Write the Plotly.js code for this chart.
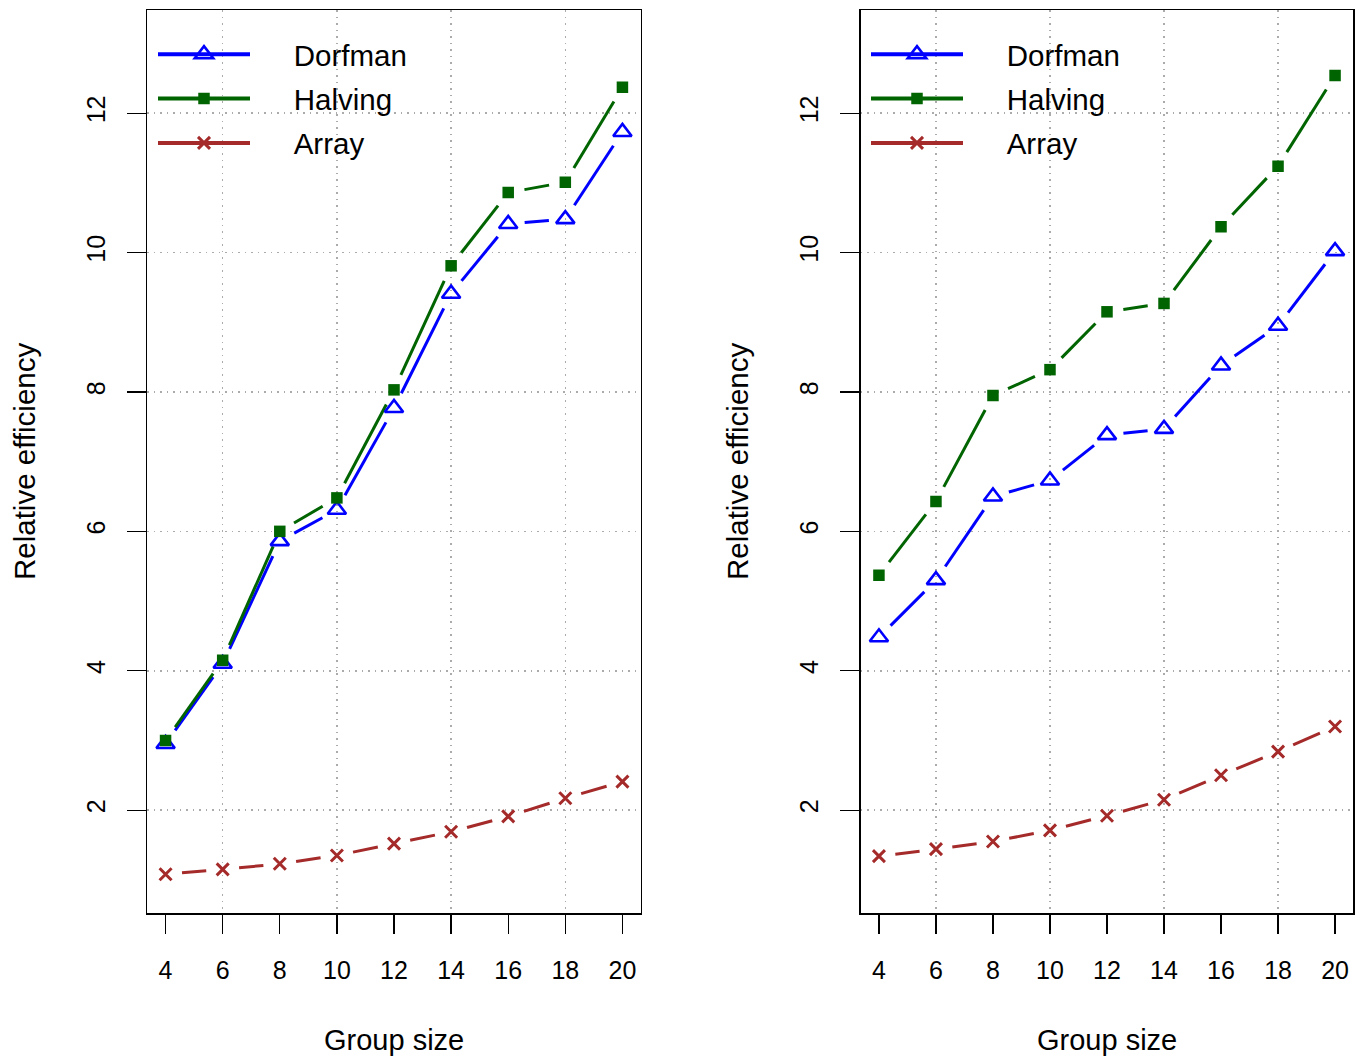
<!DOCTYPE html>
<html><head><meta charset="utf-8">
<script src="https://cdn.plot.ly/plotly-3.0.1.min.js"></script>
<style>html,body{margin:0;padding:0;background:#fff}</style>
</head><body><div id="chart" style="width:1365px;height:1059px"></div>
<script>
// ---- data ----
const groupSize = [4, 6, 8, 10, 12, 14, 16, 18, 20];
const leftDorfman  = [2.95, 4.10, 5.86, 6.31, 7.77, 9.41, 10.41, 10.48, 11.73];
const leftHalving  = [3.00, 4.15, 6.00, 6.48, 8.03, 9.81, 10.86, 11.01, 12.37];
const leftArray    = [1.08, 1.15, 1.23, 1.35, 1.52, 1.69, 1.91, 2.17, 2.41];
const rightDorfman = [4.48, 5.30, 6.50, 6.73, 7.38, 7.47, 8.38, 8.95, 10.02];
const rightHalving = [5.37, 6.43, 7.95, 8.32, 9.15, 9.27, 10.37, 11.24, 12.54];
const rightArray   = [1.34, 1.44, 1.55, 1.71, 1.92, 2.15, 2.50, 2.84, 3.20];
const seriesNames = ['Dorfman', 'Halving', 'Array'];
const xTickVals = [4, 6, 8, 10, 12, 14, 16, 18, 20];
const xGridVals = [6, 10, 14, 18];
const yTickVals = [2, 4, 6, 8, 10, 12];
const xAxisTitle = 'Group size';
const yAxisTitle = 'Relative efficiency';

// ---- style ----
const W = 1365, H = 1059;
const FONT = '"Liberation Sans", Arial, Helvetica, sans-serif';
const colors = {Dorfman: '#0000FF', Halving: '#006400', Array: '#A52A2A'};
const markers = {
  Dorfman: {symbol: 'triangle-up-open', size: 16, color: '#0000FF', line: {color: '#0000FF', width: 2.6}},
  Halving: {symbol: 'square', size: 11.5, color: '#006400', line: {width: 0}},
  Array:   {symbol: 'x-thin-open', size: 12, color: '#A52A2A', line: {color: '#A52A2A', width: 3}}
};
const xRange = [3.36, 20.64];
const yRange = [0.52, 13.48];
const panels = [
  {xa: 'x', ya: 'y', gx: 'x3', legend: 'legend', dom: [147.3 / W, 640.7 / W],
   data: {Dorfman: leftDorfman, Halving: leftHalving, Array: leftArray}},
  {xa: 'x2', ya: 'y2', gx: 'x4', legend: 'legend2', dom: [860.7 / W, 1353.3 / W],
   data: {Dorfman: rightDorfman, Halving: rightHalving, Array: rightArray}}
];
const yDom = [1 - 913.3 / H, 1 - 10 / H];
const GAP = 16.5; // px gap around points (R type="b")
const LEGEND_PAD = '\u00A0\u00A0\u00A0\u00A0\u2009';

// build broken segments (type="b") in data units through the axis scale
function brokenSegments(xs, ys, dom) {
  const kx = W * (dom[1] - dom[0]) / (xRange[1] - xRange[0]);
  const ky = H * (yDom[1] - yDom[0]) / (yRange[1] - yRange[0]);
  const sx = [], sy = [];
  for (let i = 0; i < xs.length - 1; i++) {
    const dx = xs[i + 1] - xs[i], dy = ys[i + 1] - ys[i];
    const L = Math.hypot(dx * kx, dy * ky);
    if (L <= 2 * GAP) continue;
    const f = GAP / L;
    sx.push(xs[i] + dx * f, xs[i + 1] - dx * f, null);
    sy.push(ys[i] + dy * f, ys[i + 1] - dy * f, null);
  }
  return {x: sx, y: sy};
}

const traces = [];
panels.forEach(p => {
  ['Array', 'Dorfman', 'Halving'].forEach(name => {
    const seg = brokenSegments(groupSize, p.data[name], p.dom);
    traces.push({type: 'scatter', mode: 'lines', x: seg.x, y: seg.y, xaxis: p.xa, yaxis: p.ya,
      line: {color: colors[name], width: 3}, connectgaps: false, showlegend: false, hoverinfo: 'skip'});
  });
  ['Dorfman', 'Halving', 'Array'].forEach(name => {
    traces.push({type: 'scatter', mode: 'markers', x: groupSize, y: p.data[name], xaxis: p.xa, yaxis: p.ya,
      marker: markers[name], showlegend: false, name: name});
  });
  seriesNames.forEach(name => {
    traces.push({type: 'scatter', mode: 'lines+markers', x: [null], y: [null], xaxis: p.gx, yaxis: p.ya,
      name: LEGEND_PAD + name, legend: p.legend, legendgroup: p.legend + name,
      line: {color: colors[name], width: 4}, marker: markers[name]});
  });
});

function mainX(dom, anchor) {
  return {domain: dom, range: xRange, anchor: anchor, tickmode: 'array', tickvals: xTickVals,
    showgrid: false, zeroline: false, showline: true, mirror: true, linecolor: '#000', linewidth: 1.3,
    ticks: 'outside', ticklen: 19, tickwidth: 1.3, tickcolor: '#000',
    ticklabelstandoff: 15,
    tickfont: {family: FONT, size: 25, color: '#000'}};
}
function mainY(anchor) {
  return {domain: yDom, range: yRange, anchor: anchor, tickmode: 'array', tickvals: yTickVals,
    showgrid: true, gridcolor: '#ABABAB', griddash: '1.5px,5px', gridwidth: 1.5,
    zeroline: false, showline: true, mirror: true, linecolor: '#000', linewidth: 1.3,
    ticks: 'outside', ticklen: 19, tickwidth: 1.3, tickcolor: '#000', tickangle: -90,
    ticklabelstandoff: 12,
    tickfont: {family: FONT, size: 25, color: '#000'}};
}
function gridX(overlay, anchor) {
  return {overlaying: overlay, anchor: anchor, range: xRange, tickmode: 'array', tickvals: xGridVals,
    showgrid: true, gridcolor: '#ABABAB', griddash: '1.5px,5px', gridwidth: 1.5,
    showticklabels: false, ticks: '', showline: false, zeroline: false};
}
function legendAt(px, py) {
  return {x: px / W, y: 1 - py / H, xanchor: 'left', yanchor: 'top', bgcolor: 'rgba(0,0,0,0)',
    borderwidth: 0, itemwidth: 92, tracegroupgap: 3, itemclick: false, itemdoubleclick: false,
    font: {family: FONT, size: 29.5, color: '#000'}};
}

const layout = {
  width: W, height: H, margin: {l: 0, r: 0, t: 0, b: 0},
  paper_bgcolor: '#fff', plot_bgcolor: '#fff', showlegend: true,
  font: {family: FONT, color: '#000'},
  xaxis: mainX(panels[0].dom, 'y'), yaxis: mainY('x'),
  xaxis2: mainX(panels[1].dom, 'y2'), yaxis2: mainY('x2'),
  xaxis3: gridX('x', 'y'), xaxis4: gridX('x2', 'y2'),
  legend: legendAt(153, 28.5), legend2: legendAt(866, 28.5),
  annotations: [
    {text: xAxisTitle, xref: 'paper', yref: 'paper', x: 394 / W, y: 1 - 1040 / H, xanchor: 'center', yanchor: 'middle', showarrow: false, font: {family: FONT, size: 29, color: '#000'}},
    {text: xAxisTitle, xref: 'paper', yref: 'paper', x: 1107 / W, y: 1 - 1040 / H, xanchor: 'center', yanchor: 'middle', showarrow: false, font: {family: FONT, size: 29, color: '#000'}},
    {text: yAxisTitle, xref: 'paper', yref: 'paper', x: 25 / W, y: 1 - 462 / H, xanchor: 'center', yanchor: 'middle', textangle: -90, showarrow: false, font: {family: FONT, size: 29.5, color: '#000'}},
    {text: yAxisTitle, xref: 'paper', yref: 'paper', x: 738 / W, y: 1 - 462 / H, xanchor: 'center', yanchor: 'middle', textangle: -90, showarrow: false, font: {family: FONT, size: 29.5, color: '#000'}}
  ]
};
Plotly.newPlot('chart', traces, layout, {staticPlot: true, displayModeBar: false});
</script></body></html>
